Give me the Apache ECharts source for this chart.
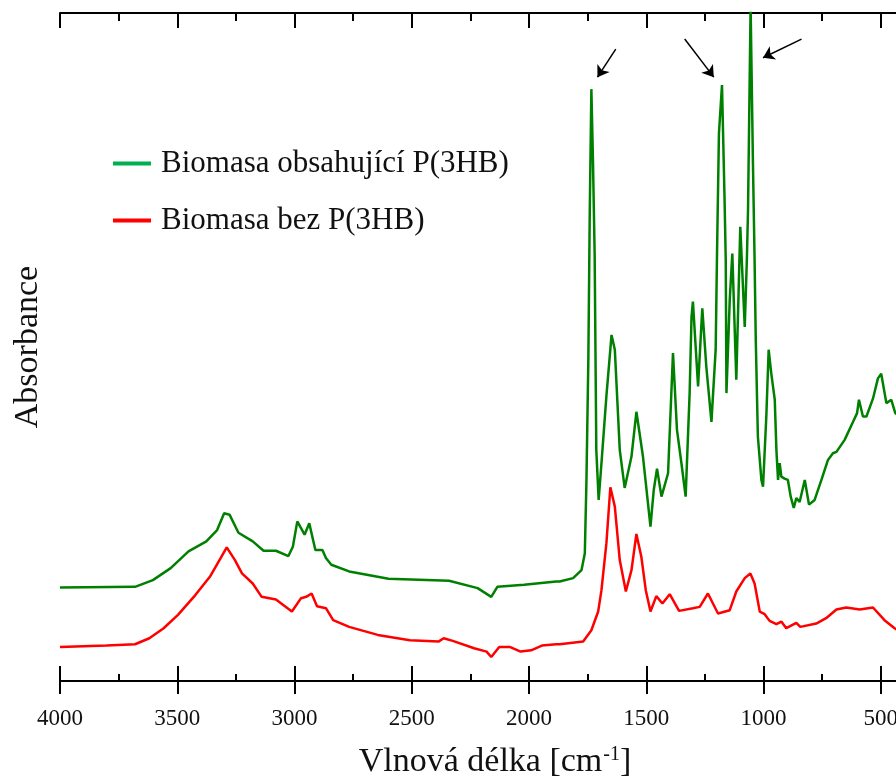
<!DOCTYPE html>
<html>
<head>
<meta charset="utf-8">
<script src="https://cdn.jsdelivr.net/npm/echarts@6/dist/echarts.min.js"></script>
<style>
  html, body { margin: 0; padding: 0; background: #fff; }
  #chart { width: 896px; height: 778px; }
</style>
</head>
<body>
<div id="chart"></div>
<script>
// FTIR spektra, absorbance v libovolných jednotkách (0-100 = výška grafu)
const greenWn = [4000, 3680, 3604, 3528, 3452, 3376, 3330, 3300, 3277, 3239, 3178, 3132, 3079, 3026, 3007, 2988, 2957, 2937, 2911, 2881, 2866, 2843, 2767, 2599, 2341, 2219, 2161, 2135, 2021, 1884, 1869, 1812, 1776, 1762, 1755, 1747, 1741, 1734, 1727, 1720, 1713, 1703, 1691, 1670, 1648, 1634, 1613, 1592, 1563, 1542, 1514, 1482, 1468, 1454, 1435, 1407, 1386, 1369, 1350, 1332, 1315, 1307, 1301, 1279, 1261, 1244, 1222, 1204, 1198, 1190, 1177, 1166, 1161, 1158, 1144, 1133, 1116, 1099, 1080, 1071, 1066, 1055, 1045, 1038, 1033, 1024, 1009, 1002, 988, 978, 967, 952, 945, 938, 931, 924, 910, 896, 884, 871, 860, 846, 824, 806, 782, 753, 725, 704, 689, 654, 618, 601, 593, 576, 561, 533, 512, 498, 476, 455, 438, 400]
const greenAbs = [14.0, 14.1, 15.1, 16.9, 19.4, 20.9, 22.6, 25.1, 24.9, 22.2, 20.9, 19.5, 19.5, 18.7, 20.1, 23.9, 21.9, 23.6, 19.6, 19.6, 18.4, 17.4, 16.4, 15.3, 15.0, 13.9, 12.6, 14.1, 14.4, 14.9, 14.9, 15.4, 16.6, 19.1, 30.0, 48.0, 70.0, 88.6, 77.5, 63.8, 34.6, 27.1, 32.6, 42.6, 51.8, 49.6, 34.6, 28.9, 33.6, 40.3, 33.6, 23.1, 28.6, 31.8, 27.6, 31.1, 49.1, 37.6, 32.6, 27.6, 43.1, 54.5, 56.8, 44.1, 55.8, 47.1, 38.8, 49.6, 64.5, 82.0, 89.2, 72.0, 63.0, 43.1, 57.0, 64.0, 45.1, 68.0, 53.0, 63.0, 70.5, 101, 77.5, 63.0, 51.1, 36.6, 30.1, 29.1, 39.6, 49.6, 46.1, 42.1, 34.6, 30.1, 32.6, 30.6, 30.3, 30.1, 27.6, 25.9, 27.4, 26.8, 30.1, 26.4, 27.1, 30.1, 33.1, 34.1, 34.3, 36.1, 38.8, 40.1, 42.1, 39.6, 39.6, 42.3, 45.3, 46.0, 41.6, 42.1, 40.1, 39.0]

const redWn = [4000, 3802, 3680, 3619, 3558, 3497, 3422, 3361, 3315, 3289, 3254, 3224, 3178, 3140, 3079, 3041, 3011, 2972, 2950, 2927, 2904, 2866, 2835, 2767, 2645, 2508, 2386, 2364, 2325, 2234, 2181, 2161, 2127, 2082, 2036, 1991, 1945, 1884, 1869, 1769, 1734, 1705, 1691, 1670, 1653, 1634, 1613, 1587, 1563, 1542, 1521, 1502, 1482, 1457, 1431, 1400, 1360, 1301, 1272, 1237, 1194, 1144, 1116, 1080, 1056, 1038, 1016, 995, 974, 945, 924, 903, 860, 843, 775, 733, 689, 647, 590, 533, 484, 441, 400]
const redAbs = [5.1, 5.3, 5.5, 6.4, 7.9, 9.9, 12.9, 15.6, 18.4, 20.0, 18.1, 16.1, 14.6, 12.6, 12.2, 11.2, 10.4, 12.4, 12.6, 13.1, 11.2, 10.9, 9.1, 8.1, 6.9, 6.1, 5.9, 6.4, 6.0, 4.9, 4.4, 3.6, 5.1, 5.1, 4.4, 4.6, 5.3, 5.5, 5.5, 5.9, 7.6, 10.4, 13.6, 20.6, 29.0, 26.1, 18.1, 13.4, 16.6, 22.0, 18.6, 13.6, 10.4, 12.7, 11.6, 13.0, 10.5, 10.9, 11.1, 13.1, 10.1, 10.6, 13.4, 15.4, 16.1, 14.6, 10.4, 10.0, 9.0, 8.5, 8.9, 7.9, 8.7, 8.1, 8.6, 9.4, 10.7, 11.0, 10.7, 11.0, 9.1, 7.9, 7.0]

const seriesNames = ['Biomasa obsahující P(3HB)', 'Biomasa bez P(3HB)']
const xTicks = [4000, 3500, 3000, 2500, 2000, 1500, 1000, 500]

// šipky u pásů P(3HB): [start, konec] v souřadnicích grafu
const arrows = [
  [[1630, 94.6], [1708, 90.4]],
  [[1336, 96.1], [1212, 90.4]],
  [[838, 96.1], [1002, 93.3]]
]

const pairs = (xs, ys) => xs.map((x, i) => [x, ys[i]])
const font = 'Liberation Serif, Times New Roman, serif'

const baseX = {
  type: 'value', min: 0, max: 4000, interval: 500, inverse: true,
  splitLine: { show: false },
  axisLine: { lineStyle: { color: '#000', width: 2 } }
}

let myChart = echarts.init(document.getElementById('chart'))
myChart.setOption({
  animation: false,
  grid: { left: 60, top: 13, bottom: 97, right: -102, outerBoundsMode: 'none', containLabel: false },
  legend: {
    left: 108, top: 143, orient: 'vertical', itemGap: 26,
    icon: 'rect', itemWidth: 38, itemHeight: 4,
    textStyle: { fontFamily: font, fontSize: 31, color: '#111', padding: [0, 0, 0, 5] },
    data: [
      { name: seriesNames[0], itemStyle: { color: '#00b050' } },
      { name: seriesNames[1], itemStyle: { color: '#ff0000' } }
    ]
  },
  xAxis: [
    Object.assign({}, baseX, {
      position: 'bottom',
      axisTick: { show: true, inside: false, length: 13, lineStyle: { color: '#000', width: 2 } },
      minorTick: { show: false },
      axisLabel: {
        show: true, margin: 26, fontFamily: font, fontSize: 23, color: '#111',
        formatter: v => (xTicks.includes(v) ? String(v) : '')
      },
      name: 'Vlnová délka [cm{sup|-1}]', nameLocation: 'middle', nameGap: 64,
      nameTextStyle: {
        fontFamily: font, fontSize: 34, color: '#111', padding: [0, 68, 0, 0],
        rich: { sup: { fontFamily: font, fontSize: 20, color: '#111', verticalAlign: 'top', padding: [0, 0, 14, 1] } }
      }
    }),
    Object.assign({}, baseX, {
      position: 'bottom',
      axisTick: { show: true, inside: true, length: 15, lineStyle: { color: '#000', width: 2 } },
      minorTick: { show: true, splitNumber: 2, length: 7, lineStyle: { color: '#000', width: 2 } },
      axisLabel: { show: false }
    }),
    Object.assign({}, baseX, {
      position: 'top',
      axisTick: { show: true, inside: true, length: 15, lineStyle: { color: '#000', width: 2 } },
      minorTick: { show: true, splitNumber: 2, length: 8, lineStyle: { color: '#000', width: 2 } },
      axisLabel: { show: false }
    })
  ],
  yAxis: {
    type: 'value', min: 0, max: 100,
    axisLine: { show: true, lineStyle: { color: '#000', width: 2 } },
    axisTick: { show: false },
    axisLabel: { show: false },
    splitLine: { show: false },
    name: 'Absorbance', nameLocation: 'middle', nameGap: 15,
    nameTextStyle: { fontFamily: font, fontSize: 34, color: '#111' }
  },
  series: [
    {
      name: seriesNames[0], type: 'line', xAxisIndex: 0,
      data: pairs(greenWn, greenAbs), showSymbol: false, clip: true,
      lineStyle: { color: '#008000', width: 2.5 }, itemStyle: { color: '#008000' },
      markLine: {
        silent: true, symbol: ['none', 'arrow'], symbolSize: 11,
        label: { show: false },
        lineStyle: { color: '#000', width: 1.5, type: 'solid' },
        data: arrows.map(a => [{ coord: a[0] }, { coord: a[1] }])
      }
    },
    {
      name: seriesNames[1], type: 'line', xAxisIndex: 0,
      data: pairs(redWn, redAbs), showSymbol: false, clip: true,
      lineStyle: { color: '#ff0000', width: 2.5 }, itemStyle: { color: '#ff0000' }
    }
  ]
})
</script>
</body>
</html>
